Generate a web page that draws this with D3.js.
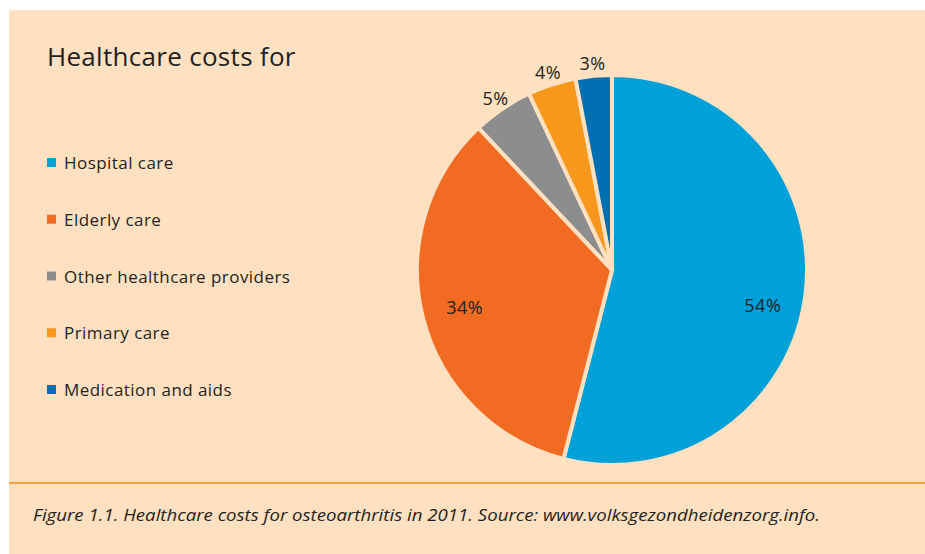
<!DOCTYPE html>
<html>
<head>
<meta charset="utf-8">
<script src="https://cdn.jsdelivr.net/npm/d3@7"></script>
<style>
  body { margin: 0; background: #fff; }
  svg text { font-family: "Open Sans", "Noto Sans", sans-serif; fill: #231f20; }
</style>
</head>
<body>
<svg id="chart" width="925" height="554"></svg>
<script>
const categories = ["Hospital care", "Elderly care", "Other healthcare providers", "Primary care", "Medication and aids"];
const shares = [54, 34, 5, 4, 3];
const colors = ["#00a0d8", "#f26b22", "#8c8d8f", "#f7981d", "#0070b3"];
const title = "Healthcare costs for";
const caption = "Figure 1.1. Healthcare costs for osteoarthritis in 2011. Source: www.volksgezondheidenzorg.info.";

const bg = "#ffe1c1";
const svg = d3.select("#chart");

// panel
svg.append("rect")
    .attr("x", 9).attr("y", 10)
    .attr("width", 916).attr("height", 544)
    .attr("fill", bg);

svg.append("line")
    .attr("x1", 9).attr("x2", 925)
    .attr("y1", 483).attr("y2", 483)
    .attr("stroke", "#f7a23e")
    .attr("stroke-width", 2);

svg.append("text")
    .attr("x", 47).attr("y", 66)
    .attr("font-size", 26)
    .attr("letter-spacing", 0.3)
    .text(title);

// legend
const legendY = d3.scalePoint().domain(categories).range([163, 390]);
const legend = svg.append("g").selectAll("g")
    .data(categories)
    .join("g")
    .attr("transform", d => `translate(47,${legendY(d)})`);

legend.append("rect")
    .attr("x", 0).attr("y", -5)
    .attr("width", 9).attr("height", 9)
    .attr("fill", (d, i) => colors[i]);

legend.append("text")
    .attr("x", 17).attr("y", 6)
    .attr("font-size", 17)
    .attr("letter-spacing", 0.45)
    .text(d => d);

// pie
const cx = 612, cy = 270, r = 195;
const data = categories.map((c, i) => ({name: c, value: shares[i], color: colors[i]}));
const pie = d3.pie().value(d => d.value).sort(null);
const arcs = pie(data);
const arc = d3.arc().innerRadius(0).outerRadius(r);

const g = svg.append("g").attr("transform", `translate(${cx},${cy})`);

g.selectAll("path")
    .data(arcs)
    .join("path")
    .attr("d", arc)
    .attr("fill", d => d.data.color)
    .attr("stroke", bg)
    .attr("stroke-width", 4)
    .attr("stroke-linejoin", "miter");

const innerLabel = d3.arc().innerRadius(152).outerRadius(152);
const outerLabel = d3.arc().innerRadius(207).outerRadius(207);

g.selectAll("text.pct")
    .data(arcs)
    .join("text")
    .attr("class", "pct")
    .attr("transform", d => {
        const p = (d.data.value >= 10 ? innerLabel : outerLabel).centroid(d);
        return `translate(${p[0]},${p[1]})`;
    })
    .attr("text-anchor", "middle")
    .attr("dy", d => d.data.value >= 50 ? "1.3em" : "0.35em")
    .attr("font-size", 18)
    .attr("letter-spacing", 0.5)
    .text(d => d.data.value + "%");

svg.append("text")
    .attr("x", 33).attr("y", 521)
    .attr("font-size", 17)
    .attr("font-style", "italic")
    .attr("textLength", 787)
    .attr("lengthAdjust", "spacingAndGlyphs")
    .text(caption);
</script>
</body>
</html>
